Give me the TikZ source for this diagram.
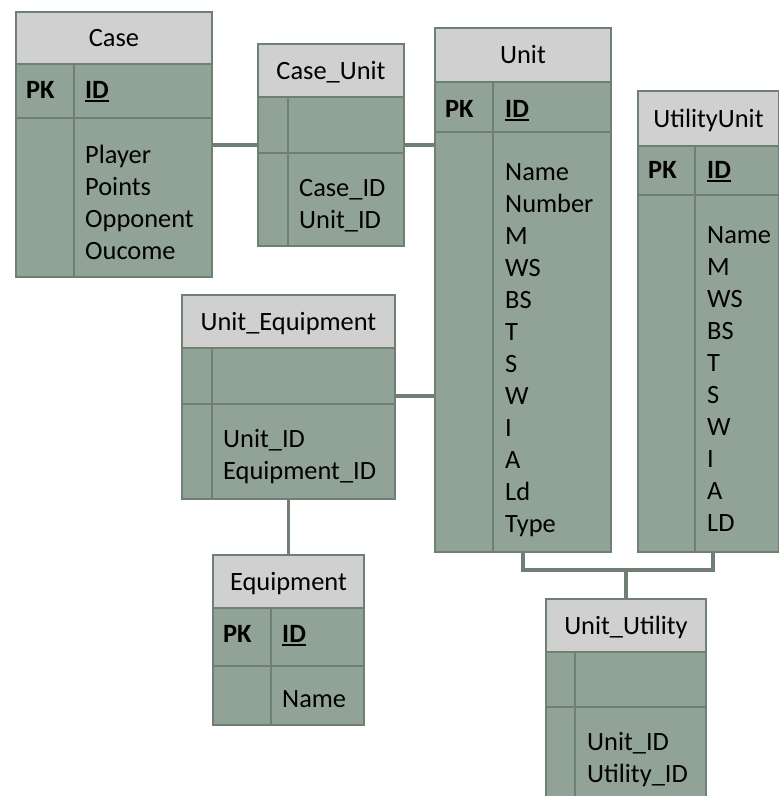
\documentclass[tikz,border=0pt]{standalone}
\usepackage{fontspec}
\setmainfont{Carlito}
\usetikzlibrary{calc}

\definecolor{hdrgray}{HTML}{D0D0D0}
\definecolor{bodygreen}{HTML}{91A396}
\definecolor{edgegray}{HTML}{6F7F74}

% bold key name with a heavy underline
\newcommand{\keyid}[1]{\setbox0\hbox{\bfseries #1}\rlap{\rule[-3.5pt]{\wd0}{1.8pt}}\box0}

\begin{document}
\begin{tikzpicture}[
  x=1pt, y=-1pt,
  every node/.style={font=\fontsize{26.4}{32}\selectfont},
  tbl/.style={draw=edgegray, fill=bodygreen, line width=2pt, inner sep=0pt, anchor=north west},
  hdr/.style={draw=edgegray, fill=hdrgray, line width=2pt, inner sep=0pt, anchor=north west,
              text height=17.5pt, text depth=0pt},
  rule/.style={draw=edgegray, line width=2pt},
  fld/.style={anchor=base west, align=left, inner sep=0pt},
  conn/.style={draw=edgegray, line width=3.5pt}
]
\useasboundingbox (0,0) rectangle (779,796);
\clip (0,0) rectangle (779,796);

% ---------------------------------------------------------------------------
% Case  (field blocks are placed by the baseline of their last line)
% ---------------------------------------------------------------------------
\node[tbl, minimum width=196, minimum height=265] (case) at (15,11) {};
\node[hdr, minimum width=196, minimum height=52] (caseH) at (case.north west) {Case};
\draw[rule] (case.west |- 0,118) -- (case.east |- 0,118);
\draw[rule] (caseH.south -| 74,0) -- (case.south -| 74,0);
\node[fld] (casePK) at (26,98) {\textbf{PK}};
\node[fld] (caseID) at (85,98) {\keyid{ID}};
\node[fld] (caseFlds) at (85,259) {Player\\Points\\Opponent\\Oucome};

% ---------------------------------------------------------------------------
% Case_Unit
% ---------------------------------------------------------------------------
\node[tbl, minimum width=146, minimum height=202] (caseunit) at (257,43) {};
\node[hdr, minimum width=146, minimum height=53] (caseunitH) at (caseunit.north west) {Case\_Unit};
\draw[rule] (caseunit.west |- 0,153) -- (caseunit.east |- 0,153);
\draw[rule] (caseunitH.south -| 288,0) -- (caseunit.south -| 288,0);
\node[fld] (caseunitFlds) at (299,228) {Case\_ID\\Unit\_ID};

% ---------------------------------------------------------------------------
% Unit
% ---------------------------------------------------------------------------
\node[tbl, minimum width=176, minimum height=524] (unit) at (434,27) {};
\node[hdr, minimum width=176, minimum height=54] (unitH) at (unit.north west) {Unit};
\draw[rule] (unit.west |- 0,132) -- (unit.east |- 0,132);
\draw[rule] (unitH.south -| 493,0) -- (unit.south -| 493,0);
\node[fld] (unitPK) at (445,117) {\textbf{PK}};
\node[fld] (unitID) at (505,117) {\keyid{ID}};
\node[fld] (unitFlds) at (505,532) {Name\\Number\\M\\WS\\BS\\T\\S\\W\\I\\A\\Ld\\Type};

% ---------------------------------------------------------------------------
% UtilityUnit
% ---------------------------------------------------------------------------
\node[tbl, minimum width=141, minimum height=461] (utilunit) at (637,90) {};
\node[hdr, minimum width=141, minimum height=55] (utilunitH) at (utilunit.north west) {UtilityUnit};
\draw[rule] (utilunit.west |- 0,195) -- (utilunit.east |- 0,195);
\draw[rule] (utilunitH.south -| 695,0) -- (utilunit.south -| 695,0);
\node[fld] (utilunitPK) at (648,178) {\textbf{PK}};
\node[fld] (utilunitID) at (707,178) {\keyid{ID}};
\node[fld] (utilunitFlds) at (707,531) {Name\\M\\WS\\BS\\T\\S\\W\\I\\A\\LD};

% ---------------------------------------------------------------------------
% Unit_Equipment
% ---------------------------------------------------------------------------
\node[tbl, minimum width=213, minimum height=204] (uequip) at (181,294) {};
\node[hdr, minimum width=213, minimum height=53] (uequipH) at (uequip.north west) {Unit\_Equipment};
\draw[rule] (uequip.west |- 0,404) -- (uequip.east |- 0,404);
\draw[rule] (uequipH.south -| 212,0) -- (uequip.south -| 212,0);
\node[fld] (uequipFlds) at (223,479) {Unit\_ID\\Equipment\_ID};

% ---------------------------------------------------------------------------
% Equipment
% ---------------------------------------------------------------------------
\node[tbl, minimum width=151, minimum height=170] (equip) at (212,554) {};
\node[hdr, minimum width=151, minimum height=53] (equipH) at (equip.north west) {Equipment};
\draw[rule] (equip.west |- 0,666) -- (equip.east |- 0,666);
\draw[rule] (equipH.south -| 271,0) -- (equip.south -| 271,0);
\node[fld] (equipPK) at (223,642) {\textbf{PK}};
\node[fld] (equipID) at (282,642) {\keyid{ID}};
\node[fld] (equipFlds) at (282,707) {Name};

% ---------------------------------------------------------------------------
% Unit_Utility
% ---------------------------------------------------------------------------
\node[tbl, minimum width=160, minimum height=220] (unitutil) at (545,598) {};
\node[hdr, minimum width=160, minimum height=53] (unitutilH) at (unitutil.north west) {Unit\_Utility};
\draw[rule] (unitutil.west |- 0,707) -- (unitutil.east |- 0,707);
\draw[rule] (unitutilH.south -| 575,0) -- (unitutil.south -| 575,0);
\node[fld] (unitutilFlds) at (587,782) {Unit\_ID\\Utility\_ID};

% ---------------------------------------------------------------------------
% Relationship lines
% ---------------------------------------------------------------------------
\coordinate (caseLink) at (0,145);
\coordinate (equipLink) at (0,396);
\coordinate (utilBend) at (713,570);
\draw[conn] (case.east |- caseLink) -- (caseunit.west |- caseLink);
\draw[conn] (caseunit.east |- caseLink) -- (unit.west |- caseLink);
\draw[conn] (uequip.east |- equipLink) -- (unit.west |- equipLink);
\draw[conn] (uequip.south -| equip.north) -- (equip.north);
\draw[conn] (unit.south) |- (utilBend) -- (utilBend |- utilunit.south);
\draw[conn] (utilBend -| unitutil.north) -- (unitutil.north);

\end{tikzpicture}
\end{document}
